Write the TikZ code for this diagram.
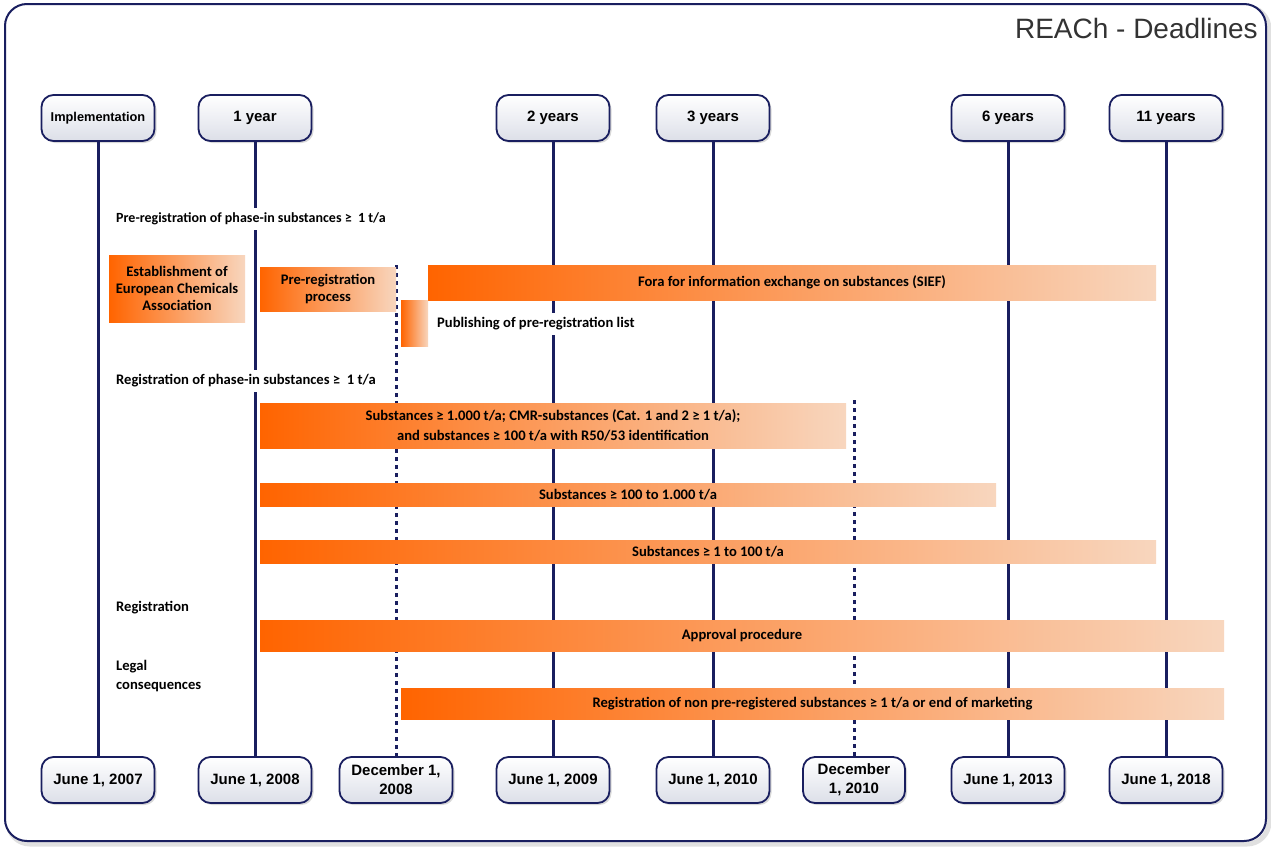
\documentclass[tikz,border=0pt]{standalone}
\usepackage{fontspec}
\setmainfont{Carlito}
\newfontfamily\arialf{Liberation Sans}
\usetikzlibrary{shadows}
\definecolor{navy}{RGB}{25,30,95}
\definecolor{orA}{RGB}{255,100,0}
\definecolor{orB}{RGB}{248,214,190}
\definecolor{boxbot}{RGB}{220,223,232}
\tikzset{
 datebox/.style={draw=navy, line width=1.8pt, rounded corners=12pt, top color=white, bottom color=boxbot,
   minimum width=113pt, minimum height=46pt, align=center, inner sep=2pt,
   font=\arialf\bfseries\fontsize{15}{18}\selectfont,
   drop shadow={opacity=0.3, shadow xshift=2pt, shadow yshift=-2pt}},
 vline/.style={navy, line width=3pt},
 dline/.style={navy, line width=3pt, dash pattern=on 4pt off 4pt},
 bar/.style={left color=orA, right color=orB, draw=none, align=center, inner sep=0pt,
   font=\bfseries\fontsize{14.6}{17}\selectfont},
 lbl/.style={anchor=west, align=left, inner xsep=0pt, inner ysep=5pt, fill=white,
   font=\bfseries\fontsize{14.6}{19}\selectfont},
}
\begin{document}
\begin{tikzpicture}[x=1pt,y=-1pt]
\useasboundingbox (0,0) rectangle (1271,846);
\fill[white] (0,0) rectangle (1271,846);
% frame
\draw[rounded corners=22pt, line width=5pt, black!12] (8,7) rectangle (1269,844);
\draw[rounded corners=22pt, line width=2pt, navy, fill=white] (5,4) rectangle (1266,841);
\node[anchor=east, inner sep=0pt, font=\arialf\fontsize{28}{30}\selectfont, text=black!80] (title) at (1258,28) {REACh - Deadlines};

% date boxes (top)
\node[datebox, font=\arialf\bfseries\fontsize{12.8}{14}\selectfont] (t1) at (98,118) {Implementation};
\node[datebox] (t2) at (255,118) {1 year};
\node[datebox] (t3) at (553,118) {2 years};
\node[datebox] (t4) at (713,118) {3 years};
\node[datebox] (t5) at (1008,118) {6 years};
\node[datebox] (t6) at (1166,118) {11 years};
% date boxes (bottom)
\node[datebox] (b1) at (98,780) {June 1, 2007};
\node[datebox] (b2) at (255,780) {June 1, 2008};
\node[datebox, font=\arialf\bfseries\fontsize{15}{19}\selectfont] (b3) at (396,780) {December 1,\\2008};
\node[datebox] (b4) at (553,780) {June 1, 2009};
\node[datebox] (b5) at (713,780) {June 1, 2010};
\node[datebox, minimum width=102pt, font=\arialf\bfseries\fontsize{15}{19}\selectfont] (b6) at (854,780) {December\\1, 2010};
\node[datebox] (b7) at (1008,780) {June 1, 2013};
\node[datebox] (b8) at (1166,780) {June 1, 2018};

% timeline connectors
\coordinate (d1) at (396,265);
\coordinate (d2) at (854,400);
\draw[vline] (t1.south) -- (b1.north);
\draw[vline] (t2.south) -- (b2.north);
\draw[vline] (t3.south) -- (b4.north);
\draw[vline] (t4.south) -- (b5.north);
\draw[vline] (t5.south) -- (b7.north);
\draw[vline] (t6.south) -- (b8.north);
\draw[dline] (d1) -- (b3.north);
\draw[dline] (d2) -- (b6.north);

% labels
\node[lbl, font=\bfseries\fontsize{14}{19}\selectfont] (l1) at (116,219) {Pre-registration of phase-in substances ≥~ 1 t/a};
\node[lbl] (l2) at (116,381) {Registration of phase-in substances ≥~ 1 t/a};
\node[lbl] (l3) at (116,608) {Registration};
\node[lbl] (l4) at (116,676) {Legal\\consequences};
\node[lbl] (l5) at (437,324) {Publishing of pre-registration list};

% bars
\node[bar, minimum width=136pt, minimum height=67pt] (est) at (177,288.5) {Establishment of\\European Chemicals\\Association};
\node[bar, minimum width=136pt, minimum height=44pt] (pre) at (328,289) {Pre-registration\\process};
\node[bar, minimum width=728pt, minimum height=35pt] (sief) at (792,282.5) {Fora for information exchange on substances (SIEF)};
\node[bar, minimum width=27pt, minimum height=46pt] (pub) at (414.5,323) {};
\node[bar, minimum width=586pt, minimum height=45pt, font=\bfseries\fontsize{14.6}{20}\selectfont] (r1) at (553,425.5) {Substances ≥ 1.000 t/a; CMR-substances (Cat. 1 and 2 ≥ 1 t/a);\\and substances ≥ 100 t/a with R50/53 identification};
\node[bar, minimum width=736pt, minimum height=23pt] (r2) at (628,494.5) {Substances ≥ 100 to 1.000 t/a};
\node[bar, minimum width=896pt, minimum height=23pt] (r3) at (708,551.5) {Substances ≥ 1 to 100 t/a};
\node[bar, minimum width=964pt, minimum height=31pt] (app) at (742,635.5) {Approval procedure};
\node[bar, minimum width=823pt, minimum height=31pt] (leg) at (812.5,703.5) {Registration of non pre-registered substances ≥ 1 t/a or end of marketing};
\end{tikzpicture}
\end{document}
